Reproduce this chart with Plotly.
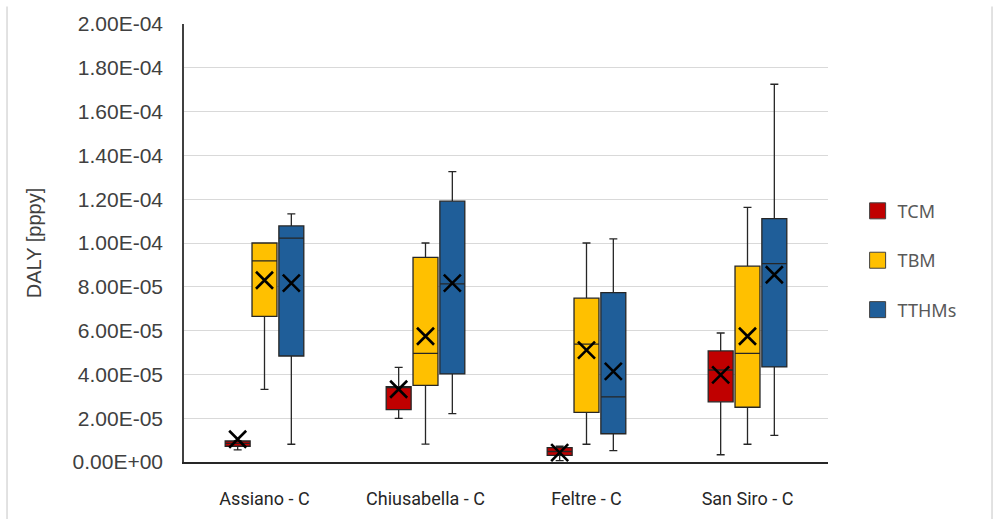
import plotly.graph_objects as go

sites = ["Assiano - C", "Chiusabella - C", "Feltre - C", "San Siro - C"]
series = ["TCM", "TBM", "TTHMs"]
colors = ["#C00000", "#FFC000", "#1F5E99"]

# Box statistics (DALY, person-per-year), one value per site
tcm_lower = [0.55e-5, 1.99e-5, 0.06e-5, 0.33e-5]
tcm_q1 = [0.72e-5, 2.39e-5, 0.30e-5, 2.75e-5]
tcm_median = [0.85e-5, 3.40e-5, 0.48e-5, 4.20e-5]
tcm_q3 = [0.96e-5, 3.44e-5, 0.66e-5, 5.07e-5]
tcm_upper = [0.98e-5, 4.32e-5, 0.72e-5, 5.89e-5]
tcm_mean = [1.04e-5, 3.32e-5, 0.43e-5, 3.98e-5]

tbm_lower = [3.32e-5, 0.82e-5, 0.81e-5, 0.81e-5]
tbm_q1 = [6.65e-5, 3.50e-5, 2.27e-5, 2.50e-5]
tbm_median = [9.18e-5, 4.96e-5, 5.38e-5, 4.96e-5]
tbm_q3 = [10.00e-5, 9.34e-5, 7.48e-5, 8.94e-5]
tbm_upper = [10.00e-5, 10.00e-5, 10.00e-5, 11.63e-5]
tbm_mean = [8.30e-5, 5.74e-5, 5.11e-5, 5.74e-5]

tthm_lower = [0.81e-5, 2.21e-5, 0.52e-5, 1.22e-5]
tthm_q1 = [4.84e-5, 4.02e-5, 1.29e-5, 4.34e-5]
tthm_median = [10.22e-5, 8.13e-5, 2.97e-5, 9.06e-5]
tthm_q3 = [10.78e-5, 11.91e-5, 7.73e-5, 11.11e-5]
tthm_upper = [11.33e-5, 13.26e-5, 10.19e-5, 17.25e-5]
tthm_mean = [8.17e-5, 8.17e-5, 4.14e-5, 8.55e-5]

ytick_vals = [0, 2e-5, 4e-5, 6e-5, 8e-5, 10e-5, 12e-5, 14e-5, 16e-5, 18e-5, 20e-5]
ytick_text = ["0.00E+00", "2.00E-05", "4.00E-05", "6.00E-05", "8.00E-05",
              "1.00E-04", "1.20E-04", "1.40E-04", "1.60E-04", "1.80E-04", "2.00E-04"]

stats = [
    (tcm_lower, tcm_q1, tcm_median, tcm_q3, tcm_upper, tcm_mean),
    (tbm_lower, tbm_q1, tbm_median, tbm_q3, tbm_upper, tbm_mean),
    (tthm_lower, tthm_q1, tthm_median, tthm_q3, tthm_upper, tthm_mean),
]

fig = go.Figure()
for name, color, (lo, q1, med, q3, hi, mean) in zip(series, colors, stats):
    fig.add_trace(go.Box(
        x=sites, lowerfence=lo, q1=q1, median=med, q3=q3, upperfence=hi,
        name=name, offsetgroup=name, fillcolor=color,
        line=dict(color="#262626", width=1.3), whiskerwidth=0.32,
        showlegend=False, hoverinfo="skip",
    ))
    # mean marker drawn as a cross over each box
    fig.add_trace(go.Scatter(
        x=sites, y=mean, mode="markers", offsetgroup=name, showlegend=False,
        marker=dict(symbol="x-thin", size=17, line=dict(color="#000000", width=2.6)),
        hoverinfo="skip",
    ))
    # legend swatch
    fig.add_trace(go.Scatter(
        x=[None], y=[None], mode="markers", name=name, legendgroup=name,
        marker=dict(symbol="square", size=20, color=color,
                    line=dict(color="#404040", width=1)),
    ))

# slide border lines on either side
for px in (-0.2748, 1.2547):
    fig.add_shape(type="line", xref="paper", yref="paper", x0=px, x1=px,
                  y0=-0.13, y1=1.04, line=dict(color="#D9D9D9", width=1.5))

fig.update_layout(
    width=995, height=521,
    margin=dict(l=184, r=167, t=17, b=57),
    paper_bgcolor="white", plot_bgcolor="white",
    boxmode="group", boxgap=0.5, boxgroupgap=0.07,
    scattermode="group", scattergap=0.5,
    showlegend=True,
    legend=dict(x=1.046, y=0.615, xanchor="left", yanchor="top",
                font=dict(family="Noto Sans, Open Sans, sans-serif", size=18, color="#595959"),
                tracegroupgap=23, traceorder="grouped", bgcolor="rgba(0,0,0,0)"),
)
fig.update_xaxes(
    type="category", showgrid=False, showline=True, linecolor="#262626", linewidth=1.5,
    ticks="", ticklabelstandoff=20,
    tickfont=dict(family="Liberation Sans Narrow, Roboto, sans-serif", size=18, color="#262626"),
)
fig.update_yaxes(
    range=[0, 2e-4], tickvals=ytick_vals, ticktext=ytick_text,
    showgrid=True, gridcolor="#D9D9D9", gridwidth=1,
    showline=True, linecolor="#404040", linewidth=1.5, zeroline=False,
    ticks="", ticklabelstandoff=15,
    tickfont=dict(family="Liberation Sans, Arial, sans-serif", size=21, color="#404040"),
    title=dict(text="DALY [pppy]", standoff=26,
               font=dict(family="Liberation Sans, Arial, sans-serif", size=20, color="#404040")),
)

fig.write_html("out.html")
